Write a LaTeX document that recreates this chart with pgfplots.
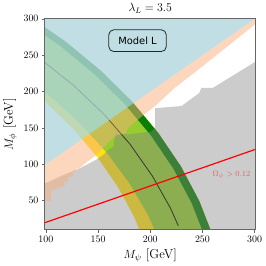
\documentclass[border=0pt]{standalone}
\usepackage{fontspec}
\newfontfamily\dejavu{DejaVu Sans}
\usepackage{pgfplots}
\pgfplotsset{compat=1.18}
\definecolor{bandyellow}{RGB}{255,225,20}
\definecolor{bandgreen}{RGB}{148,205,45}
\definecolor{banddark}{RGB}{10,125,5}
\definecolor{exclgray}{RGB}{130,130,130}
\definecolor{peach}{RGB}{249,175,125}
\definecolor{skyb}{RGB}{176,214,221}
\definecolor{omegared}{RGB}{235,95,95}
\begin{document}
\begin{tikzpicture}
\begin{axis}[
 scale only axis, width=213pt, height=213pt,
 xmin=99, xmax=301, ymin=10, ymax=300,
 xtick={100,150,...,300}, ytick={50,100,...,300},
 tick align=outside, xtick pos=left, ytick pos=left,
 major tick length=3pt,
 axis line style={black!60, line width=0.8pt},
 every tick/.style={black!60, line width=0.6pt},
 tick label style={font=\fontsize{10}{12}\selectfont},
 xlabel={$M_\psi$ [GeV]}, ylabel={$M_\phi$ [GeV]},
 label style={font=\fontsize{13}{15}\selectfont},
 title={$\lambda_L = 3.5$},
 title style={font=\fontsize{12}{14}\selectfont, yshift=-4pt},
 axis on top,
]
% yellow band (yellow inner edge -> outer edge)
\addplot[fill=bandyellow, draw=none] coordinates {
(37.3,251.9)(70.0,220.0)(99.7,185.4)(126.3,148.5)(149.4,109.5)(169.0,68.7)(184.9,26.5)(197.0,-16.8)(202.5,-43.2)
(266.2,-29.6)(260.3,0.1)(247.0,49.1)(229.4,96.8)(207.6,143.0)(181.8,187.3)(152.0,229.3)(118.7,268.7)(81.9,305.2)
} -- cycle;
% green band
\addplot[fill=bandgreen, draw=none] coordinates {
(41.0,256.4)(75.0,225.0)(106.1,190.8)(134.2,154.0)(158.8,114.9)(180.0,73.8)(197.5,31.1)(211.2,-13.0)(217.5,-40.0)
(266.2,-29.6)(260.3,0.1)(247.0,49.1)(229.4,96.8)(207.6,143.0)(181.8,187.3)(152.0,229.3)(118.7,268.7)(81.9,305.2)
} -- cycle;
% dark outer stripe
\addplot[fill=banddark, draw=none] coordinates {
(76.9,299.1)(113.2,263.2)(146.0,224.3)(175.4,182.9)(200.8,139.2)(222.3,93.5)(239.7,46.4)(252.8,-1.9)(258.6,-31.3)
(266.2,-29.6)(260.3,0.1)(247.0,49.1)(229.4,96.8)(207.6,143.0)(181.8,187.3)(152.0,229.3)(118.7,268.7)(81.9,305.2)
} -- cycle;
% central black line
\addplot[black, line width=0.8pt] coordinates {
(94.7,244.7)(126.7,208.1)(155.5,168.9)(180.6,127.5)(201.9,84.0)(219.5,39.1)(226.9,15.1)};
% excluded grey region
\addplot[fill=exclgray, fill opacity=0.41, draw=none] coordinates {
(98,74)(100,74)(115,84)(125,90)(132,94)(140,100)(148,106)(155,113)(160,120)(165,124)(166,142)(180,141)(201,145)(204.6,150)(204.6,177)(230,180)(247,198)(249,205)(260,205)(302,242)(302,0)(98,0)
} -- cycle;
% peach band below the diagonal
\addplot[fill=peach, fill opacity=0.5, draw=none] coordinates {
(98,98)(302,302)(302,294)(301,293)(246,230)(223.5,205)(204.6,180)(193,167)(179,150)(176,142)(168,140)(160,130)(155,122)(147,111)(140,104)
(131.7,94)(129,94)(129,90)(126,90)(126,83)(121,83)(121,76)(118,76)(118,69)(113,69)(113,67)(110,67)(110,65)(105,65)(105,49)(98,49)
} -- cycle;
% blue region above the diagonal
\addplot[fill=skyb, fill opacity=0.8, draw=none] coordinates {
(98,98)(302,302)(98,302)} -- cycle;
% relic line
\addplot[red, line width=1.2pt] coordinates {(99,19.5)(301,120.5)};
\node[text=omegared, font=\fontsize{8.5}{10}\selectfont] at (axis cs:277.8,85.2) {$\Omega_{\psi} > 0.12$};
\node[draw=black!85, rounded corners=5pt, line width=0.8pt, minimum width=58pt, minimum height=22pt, font=\dejavu\fontsize{10}{12}\selectfont] at (axis cs:187.8,269.9) {Model L};
\end{axis}
\end{tikzpicture}
\end{document}
